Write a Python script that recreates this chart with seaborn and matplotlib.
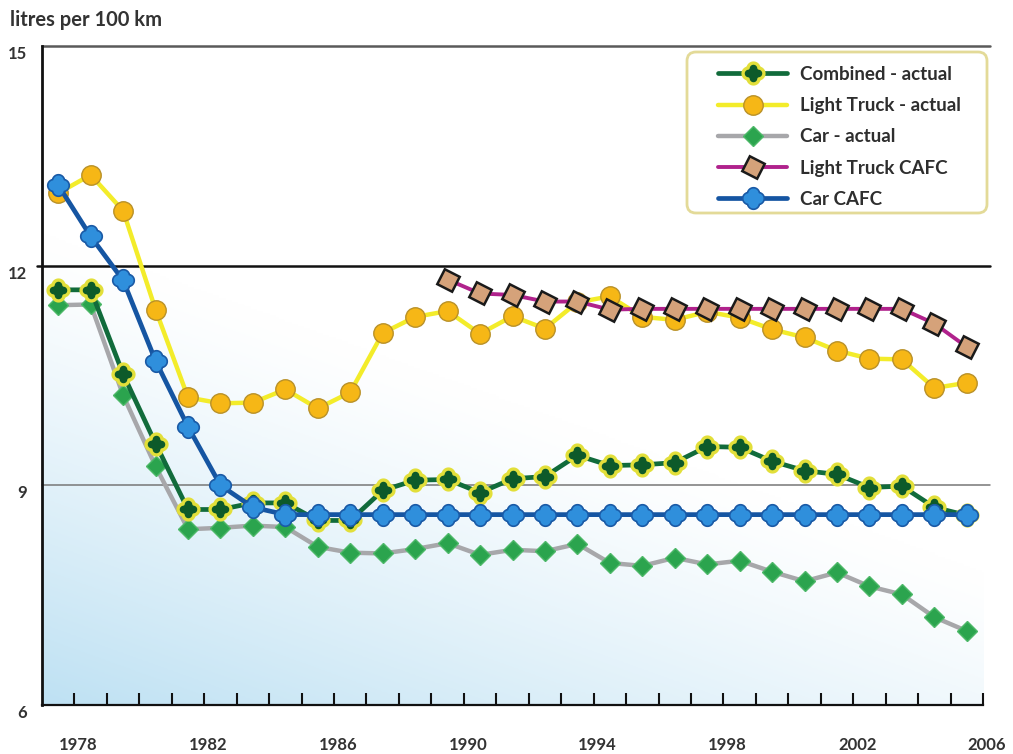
import numpy as np
import matplotlib
matplotlib.use("Agg")
import matplotlib.pyplot as plt
from matplotlib.path import Path
from matplotlib.patches import FancyBboxPatch
from matplotlib.transforms import ScaledTranslation
import seaborn as sns

# Fuel consumption, litres per 100 km, model years 1978-2006
years = list(range(1978, 2007))

combined_actual = [11.67, 11.67, 10.52, 9.57, 8.67, 8.67, 8.76, 8.76, 8.52, 8.52,
                   8.93, 9.07, 9.08, 8.90, 9.09, 9.12, 9.41, 9.27, 9.28, 9.31,
                   9.53, 9.52, 9.33, 9.20, 9.15, 8.97, 8.99, 8.70, 8.59]
light_truck_actual = [12.99, 13.24, 12.75, 11.40, 10.20, 10.12, 10.13, 10.31, 10.05, 10.27,
                      11.08, 11.30, 11.38, 11.07, 11.31, 11.14, 11.50, 11.58, 11.30, 11.26,
                      11.37, 11.29, 11.13, 11.02, 10.84, 10.73, 10.72, 10.33, 10.40]
car_actual = [11.46, 11.47, 10.23, 9.26, 8.40, 8.42, 8.45, 8.43, 8.16, 8.08,
              8.07, 8.13, 8.21, 8.05, 8.12, 8.10, 8.20, 7.94, 7.90, 8.01,
              7.92, 7.97, 7.82, 7.69, 7.81, 7.62, 7.51, 7.20, 7.01]
lt_cafc_years = list(range(1990, 2007))
light_truck_cafc = [11.81, 11.62, 11.60, 11.51, 11.51, 11.40, 11.41, 11.41, 11.41, 11.41,
                    11.41, 11.41, 11.41, 11.41, 11.41, 11.21, 10.89]
car_cafc = [13.1, 12.4, 11.8, 10.7, 9.8, 9.0, 8.7] + [8.6] * 22

labels = ["Combined - actual", "Light Truck - actual", "Car - actual",
          "Light Truck CAFC", "Car CAFC"]
year_ticks = [1978, 1982, 1986, 1990, 1994, 1998, 2002, 2006]
y_ticks = [6, 9, 12, 15]


def quatrefoil(a, r, n=240):
    """Outline of four overlapping circles arranged as a rounded cross."""
    th = np.linspace(0, 2 * np.pi, n, endpoint=False)
    u = np.column_stack([np.cos(th), np.sin(th)])
    reach = np.zeros(n)
    for c in ([a, 0], [0, a], [-a, 0], [0, -a]):
        cu = u @ np.array(c)
        disc = r ** 2 - (a ** 2 - cu ** 2)
        t = np.where(disc >= 0, cu + np.sqrt(np.clip(disc, 0, None)), 0)
        reach = np.maximum(reach, t)
    v = u * reach[:, None]
    v = np.vstack([v, v[:1]])
    codes = [Path.MOVETO] + [Path.LINETO] * (n - 1) + [Path.CLOSEPOLY]
    return Path(v, codes)


clover = quatrefoil(0.42, 0.46)
blob_cross = quatrefoil(0.40, 0.50)

sns.set_theme(style="white")
plt.rcParams["font.family"] = ["Lato", "DejaVu Sans"]
plt.rcParams["font.weight"] = "bold"

fig = plt.figure(figsize=(10.13, 7.54), dpi=100)
ax = fig.add_axes([42 / 1013, 49 / 754, 941 / 1013, 659 / 754])

# soft blue wash rising from the lower-left corner
gx, gy = np.meshgrid(np.linspace(0, 1, 300), np.linspace(0, 1, 300))
t = np.clip(1 - (gx * 0.72 + gy * 1.4), 0, 1) ** 1.2
base = np.array([1.0, 1.0, 1.0])
tint = np.array([190, 225, 243]) / 255
img = base[None, None, :] * (1 - t[..., None]) + tint[None, None, :] * t[..., None]
ax.imshow(img, origin="lower", extent=[0, 1, 0, 1], transform=ax.transAxes,
          aspect="auto", zorder=0)

ax.axhline(12, color="#111111", lw=1.8, zorder=1, xmin=-0.005, xmax=1.007, clip_on=False)
ax.axhline(9, color="#777777", lw=1.1, zorder=1, xmin=0, xmax=1.007, clip_on=False)
ax.axhline(15, color="#5a5a5a", lw=1.8, zorder=1, xmin=0, xmax=1.007, clip_on=False)

sns.lineplot(x=years, y=car_actual, ax=ax, color="#a7a7aa", lw=3.2,
             marker="D", ms=10, mfc="#2ba44e", mec="#4db868", mew=1.0,
             label=labels[2], zorder=3)
sns.lineplot(x=years, y=light_truck_actual, ax=ax, color="#f3ec2a", lw=3.2,
             marker="o", ms=14, mfc="#f6b716", mec="#b99128", mew=1.0,
             label=labels[1], zorder=4)
sns.lineplot(x=years, y=combined_actual, ax=ax, color="#116b3b", lw=3.4,
             marker=clover, ms=15, mfc="#0d5a2a", mec="#e2df3a", mew=2.4,
             label=labels[0], zorder=5)
sns.lineplot(x=years, y=car_cafc, ax=ax, color="#1555a2", lw=3.4,
             marker=blob_cross, ms=15.5, mfc="#2f8fdc", mec="#1a5aa6", mew=1.2,
             label=labels[4], zorder=6)
sns.lineplot(x=lt_cafc_years, y=light_truck_cafc, ax=ax, color="#b0228c", lw=2.8,
             marker=(4, 0, 18), ms=17, mfc="#d5a27a", mec="#1a1a1a", mew=1.8,
             label=labels[3], zorder=7)

ax.set_xlim(1977.5, 2006.5)
ax.set_ylim(6, 15)

tick_pos = [y + 0.5 for y in years]
ax.set_xticks(tick_pos)
ax.set_xticklabels([str(y) if y in year_ticks else "" for y in years])
ax.tick_params(axis="x", direction="in", length=9, width=1.5, color="#111111",
               pad=23, labelsize=12, labelcolor="#333333", bottom=True)
ax.set_yticks(y_ticks)
ax.set_yticklabels([str(v) for v in y_ticks])
ax.tick_params(axis="y", length=0, pad=11, labelsize=12, labelcolor="#333333")
for lab in ax.get_yticklabels():
    lab.set_va("top")
shift_x = ScaledTranslation(4 / 100, 0, fig.dpi_scale_trans)
for lab in ax.get_xticklabels():
    lab.set_transform(lab.get_transform() + shift_x)
ax.set_xlabel("")
ax.set_ylabel("")

for side in ("right", "top"):
    ax.spines[side].set_visible(False)
ax.spines["left"].set_color("#111111")
ax.spines["left"].set_linewidth(2.0)
ax.spines["bottom"].set_color("#111111")
ax.spines["bottom"].set_linewidth(1.6)
ax.grid(False)

# legend box with its own rounded frame
frame = FancyBboxPatch((6.87, 5.41), 3.0, 1.61, transform=fig.dpi_scale_trans,
                       boxstyle="round,pad=0,rounding_size=0.09",
                       facecolor="white", edgecolor="#e3da98", linewidth=2.0,
                       zorder=9, clip_on=False)
ax.add_patch(frame)

handles, labs = ax.get_legend_handles_labels()
order = [labs.index(l) for l in labels]
leg = ax.legend([handles[i] for i in order], [labs[i] for i in order],
                loc="upper left", bbox_to_anchor=(718 / 1013, 1 - 66 / 754),
                bbox_transform=fig.transFigure, borderaxespad=0, borderpad=0,
                frameon=False, fontsize=13.5, handlelength=3.7,
                handletextpad=0.7, labelspacing=0.76, labelcolor="#2e2e2e")
leg.set_zorder(10)

fig.text(10 / 1013, 1 - 20 / 754, "litres per 100 km", fontsize=14.5,
         color="#333333", ha="left", va="center", fontweight="bold")

fig.savefig("out.png", dpi=100)
